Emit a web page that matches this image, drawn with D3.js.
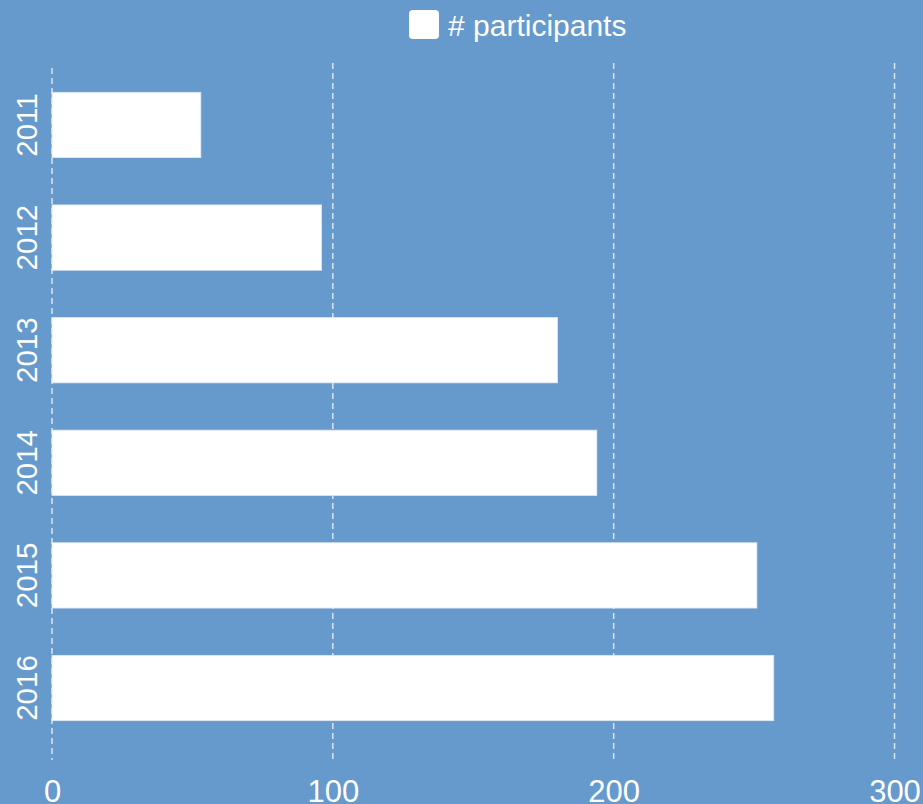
<!DOCTYPE html>
<html lang="en">
<head>
    <meta charset="UTF-8">
    <title>participants</title>
    <script src="https://cdn.jsdelivr.net/npm/d3@7"></script>
    <style>
        body{ margin: 0; background: #6699cc; }
        #mainsvg{ display: block; }
        text{ font-family: "Liberation Sans", Arial, sans-serif; fill: #fff; }
    </style>
</head>
<body>
    <svg width="923" height="804" id="mainsvg"></svg>
    <script>
        const years = ["2011", "2012", "2013", "2014", "2015", "2016"]
        const participants = [53, 96, 180, 194, 251, 257]
        const xTicks = [0, 100, 200, 300]
        const seriesName = "# participants"

        const svg = d3.select('svg')
        const width = +svg.attr('width')
        const height = +svg.attr('height')

        svg.append('rect').attr('width', width).attr('height', height).attr('fill', '#6699cc')

        const x = d3.scaleLinear().domain([0, 300]).range([52, 894.5])
        const y = d3.scaleBand().domain(years).range([68, 745])
            .paddingInner(0.42).paddingOuter(0.216)

        // dashed grid lines
        svg.append('g').selectAll('line').data(xTicks).join('line')
            .attr('x1', d => x(d)).attr('x2', d => x(d))
            .attr('y1', d => d === 0 ? 68 : 63).attr('y2', 760)
            .attr('stroke', 'rgba(255,255,255,0.75)')
            .attr('stroke-width', 1.5)
            .attr('stroke-dasharray', '6,4')

        // bars
        svg.append('g').selectAll('rect').data(years).join('rect')
            .attr('x', x(0))
            .attr('y', d => y(d))
            .attr('width', (d, i) => x(participants[i]) - x(0))
            .attr('height', y.bandwidth())
            .attr('fill', '#fff')
            .attr('stroke', '#dde8f4')
            .attr('stroke-width', 0.8)

        // x axis labels
        const xAxis = d3.axisBottom(x).tickValues(xTicks).tickSize(0).tickPadding(0)
        const gx = svg.append('g').attr('transform', 'translate(0, 780)').call(xAxis)
        gx.select('.domain').remove()
        gx.selectAll('text')
            .attr('dy', null).attr('y', 21.5)
            .attr('font-size', 31)
            .attr('fill', '#fff')
            .style('font-family', '"Liberation Sans", Arial, sans-serif')

        // y labels, rotated
        svg.append('g').selectAll('text').data(years).join('text')
            .attr('transform', d => `translate(37, ${y(d) + y.bandwidth() / 2}) rotate(-90)`)
            .attr('text-anchor', 'middle')
            .attr('font-size', 29.5)
            .text(d => d)

        // legend
        const legend = svg.append('g')
        legend.append('rect')
            .attr('x', 409).attr('y', 10).attr('width', 30).attr('height', 29)
            .attr('rx', 4).attr('fill', '#fff')
        legend.append('text')
            .attr('x', 448).attr('y', 36)
            .attr('font-size', 30)
            .text(seriesName)
    </script>
</body>
</html>
